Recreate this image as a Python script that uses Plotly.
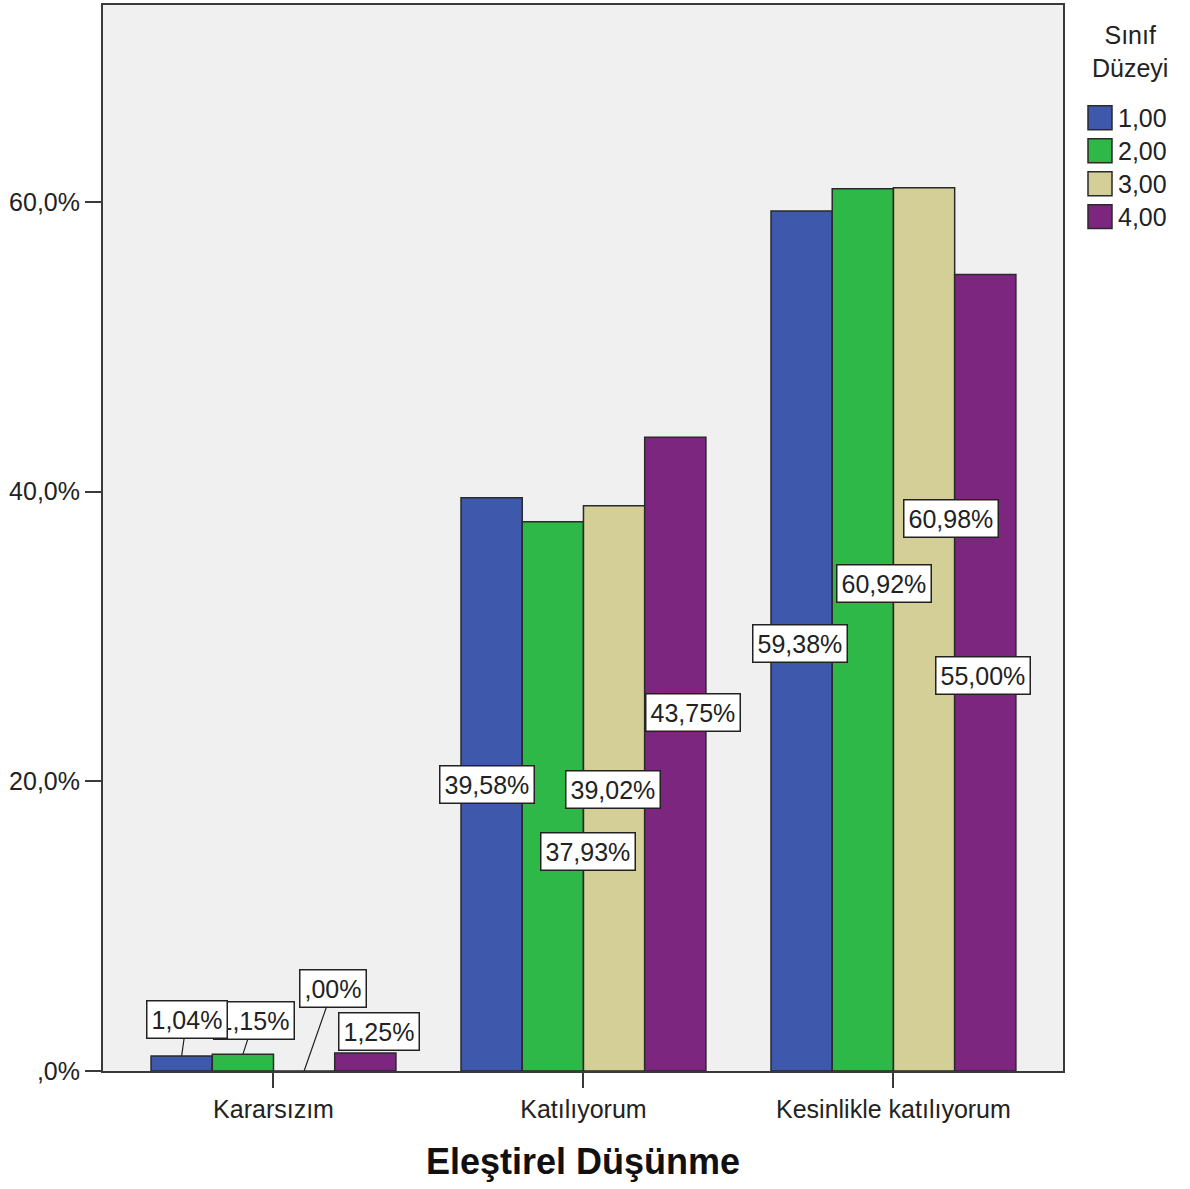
import plotly.graph_objects as go

# ---- data ----
categories = ["Kararsızım", "Katılıyorum", "Kesinlikle katılıyorum"]
series_names = ["1,00", "2,00", "3,00", "4,00"]
vals_1 = [1.04, 39.58, 59.38]
vals_2 = [1.15, 37.93, 60.92]
vals_3 = [0.00, 39.02, 60.98]
vals_4 = [1.25, 43.75, 55.00]
series_values = [vals_1, vals_2, vals_3, vals_4]
y_tickvals = [0, 20, 40, 60]
y_ticktext = [",0%", "20,0%", "40,0%", "60,0%"]
x_title = "Eleştirel Düşünme"
legend_title = "Sınıf<br>Düzeyi"

# ---- style ----
colors = ["#3E58AC", "#2EB848", "#D4CE97", "#7C2680"]
FONT = "Liberation Sans, Arial, sans-serif"
TXT = "#222222"
W, H = 1190, 1189
ML, MR, MT, MB = 103, 127, 3, 118
PW, PH = W - ML - MR, H - MT - MB

def px_x(p):
    return (p - ML) / PW

def px_y(p):
    return (H - MB - p) / PH

# label offsets (pixels) from bar top, per series per category; flag = show leader line
label_offsets = [
    [(5, -36, True), (-5, 287, False), (-2, 433, False)],
    [(11, -34, True), (35, 330, False), (21, 395, False)],
    [(29, -83, True), (-1, 284, False), (27, 331, False)],
    [(14, -21, False), (18, 275, False), (-2, 401, False)],
]
# drawing order of labels (later = on top)
label_order = [(1, 0), (2, 0), (0, 0), (3, 0),
               (0, 1), (1, 1), (2, 1), (3, 1),
               (0, 2), (1, 2), (2, 2), (3, 2)]

bargap = 0.21
bar_w = (1 - bargap) / 4

fig = go.Figure()
for i, (name, vals) in enumerate(zip(series_names, series_values)):
    fig.add_trace(go.Bar(
        x=list(range(len(categories))), y=vals, name=name,
        marker=dict(color=colors[i], line=dict(color="#2a2a2a", width=1.5)),
        showlegend=False, hoverinfo="skip",
    ))

def fmt(v):
    s = f"{v:.2f}".replace(".", ",")
    if s.startswith("0,"):
        s = s[1:]
    return s + "%"

annotations = []
for i, c in label_order:
    v = series_values[i][c]
    ax, ay, show_line = label_offsets[i][c]
    xc = c + (i - 1.5) * bar_w
    annotations.append(dict(
        x=xc, y=v, xref="x", yref="y", text=fmt(v),
        showarrow=True, arrowhead=0, arrowwidth=1.2,
        arrowcolor="#222222" if show_line else "rgba(0,0,0,0)",
        ax=ax, ay=ay, standoff=0,
        font=dict(family=FONT, size=25, color=TXT),
        bgcolor="white", bordercolor="#222222", borderwidth=1.5, borderpad=4,
    ))

# axis title
annotations.append(dict(
    x=0.5, y=px_y(1162), xref="paper", yref="paper", text=f"<b>{x_title}</b>",
    showarrow=False, xanchor="center", yanchor="middle",
    font=dict(family=FONT, size=36, color="#111111"),
))

# custom legend
annotations.append(dict(
    x=px_x(1130), y=px_y(50), xref="paper", yref="paper", text=legend_title,
    showarrow=False, xanchor="center", yanchor="middle", align="center",
    font=dict(family=FONT, size=25, color=TXT),
))
shapes = []
for i, name in enumerate(series_names):
    yc = 116 + 33 * i
    shapes.append(dict(
        type="rect", xref="paper", yref="paper",
        x0=px_x(1088), x1=px_x(1112), y0=px_y(yc - 12), y1=px_y(yc + 12),
        fillcolor=colors[i], line=dict(color="#2a2a2a", width=1.5),
    ))
    annotations.append(dict(
        x=px_x(1116), y=px_y(yc), xref="paper", yref="paper", text=name,
        showarrow=False, xanchor="left", yanchor="middle",
        font=dict(family=FONT, size=25, color=TXT),
    ))

fig.update_layout(
    width=W, height=H,
    margin=dict(l=ML, r=MR, t=MT, b=MB),
    paper_bgcolor="white", plot_bgcolor="#F0F0F0",
    barmode="group", bargap=bargap, bargroupgap=0,
    annotations=annotations, shapes=shapes,
    showlegend=False,
    font=dict(family=FONT, size=25, color=TXT),
)
fig.update_xaxes(
    range=[-0.55, 2.547], tickvals=list(range(len(categories))), ticktext=categories,
    showline=True, mirror=True, linecolor="#3a3a3a", linewidth=2,
    ticks="outside", ticklen=15, tickwidth=2, tickcolor="#3a3a3a",
    showgrid=False, zeroline=False,
    tickfont=dict(family=FONT, size=25, color=TXT),
)
fig.update_yaxes(
    range=[0, 73.6], tickvals=y_tickvals, ticktext=y_ticktext,
    showline=True, mirror=True, linecolor="#3a3a3a", linewidth=2,
    ticks="outside", ticklen=16, tickwidth=2, tickcolor="#3a3a3a",
    showgrid=False, zeroline=False,
    tickfont=dict(family=FONT, size=25, color=TXT),
)

fig.write_html(
    "out.html",
    config={"displayModeBar": False},
    post_script="document.body.style.margin='0';document.body.style.padding='0';",
)
